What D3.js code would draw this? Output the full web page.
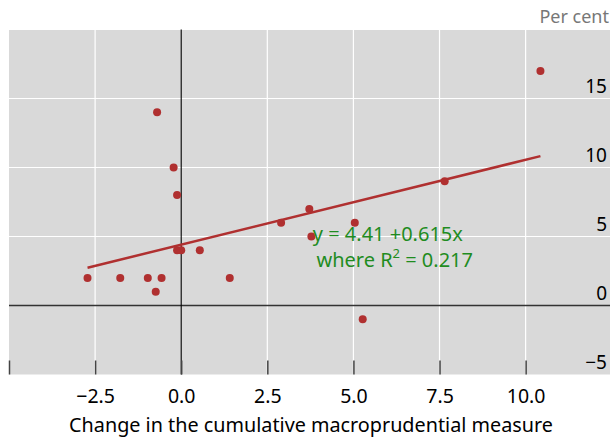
<!DOCTYPE html>
<html>
<head>
<meta charset="utf-8">
<script src="https://cdn.jsdelivr.net/npm/d3@7"></script>
<style>
  body { margin: 0; background: #fff; }
  svg { display: block; font-family: "Noto Sans", "Open Sans", sans-serif; }
</style>
</head>
<body>
<div id="chart"></div>
<script>
// data
const xValues = [10.43, -0.70, -0.22, -0.12, -2.72, -1.77, -0.97, -0.57, -0.74, -0.12, 0.0, 0.54, 1.41, 2.90, 3.72, 5.04, 3.78, 5.27, 7.65];
const yValues = [17.0, 14.0, 10.0, 8.0, 2.0, 2.0, 2.0, 2.0, 1.0, 4.0, 4.0, 4.0, 2.0, 6.0, 7.0, 6.0, 5.0, -1.0, 9.0];
const xTicks = [-5, -2.5, 0, 2.5, 5, 7.5, 10];
const xTickLabels = ["", "\u22122.5", "0.0", "2.5", "5.0", "7.5", "10.0"];
const yTicks = [-5, 0, 5, 10, 15];
const yTickLabels = ["\u22125", "0", "5", "10", "15"];
const fitIntercept = 4.41, fitSlope = 0.615;
const fitLabel = ["y = 4.41 +0.615x", "where R", "2", " = 0.217"];

const width = 610, height = 438;
const plotL = 9, plotR = 610, plotT = 29.5, plotB = 374.5;

const svg = d3.select("#chart").append("svg")
  .attr("width", width).attr("height", height);

const x = d3.scaleLinear().domain([-5, 12.45]).range([plotL, plotR]);
const y = d3.scaleLinear().domain([-5, 20]).range([plotB, plotT]);

svg.append("rect")
  .attr("x", plotL).attr("y", plotT)
  .attr("width", plotR - plotL).attr("height", plotB - plotT)
  .attr("fill", "#d9d9d9");

// grid
const gridX = d3.range(-2.5, 12.5, 2.5).filter(v => v !== 0);
svg.append("g").selectAll("line").data(gridX).join("line")
  .attr("x1", d => x(d)).attr("x2", d => x(d))
  .attr("y1", plotT).attr("y2", plotB)
  .attr("stroke", "#fff").attr("stroke-width", 1.2);

const gridY = [5, 10, 15, 20];
svg.append("g").selectAll("line").data(gridY).join("line")
  .attr("x1", plotL).attr("x2", plotR)
  .attr("y1", d => y(d)).attr("y2", d => y(d))
  .attr("stroke", "#fff").attr("stroke-width", 1.2);

// zero lines
svg.append("line")
  .attr("x1", plotL).attr("x2", plotR)
  .attr("y1", y(0)).attr("y2", y(0))
  .attr("stroke", "#333").attr("stroke-width", 1.4);
svg.append("line")
  .attr("x1", x(0)).attr("x2", x(0))
  .attr("y1", plotT).attr("y2", plotB)
  .attr("stroke", "#000").attr("stroke-width", 1.1);

// x axis: inward ticks, labels below
const xAxis = svg.append("g")
  .attr("transform", `translate(0,${plotB})`)
  .call(d3.axisBottom(x).tickValues(xTicks)
    .tickSizeInner(-14).tickSizeOuter(0).tickPadding(15)
    .tickFormat((d, i) => xTickLabels[i]));
xAxis.select(".domain").remove();
xAxis.selectAll(".tick line").attr("stroke", "#444").attr("stroke-width", 1.5);
xAxis.selectAll(".tick text")
  .attr("fill", "#000").attr("font-size", 19.5)
  .attr("font-family", "\"Noto Sans\", sans-serif");

// y labels on the right, sitting above their grid lines
svg.append("g").selectAll("text").data(yTicks).join("text")
  .attr("x", 607).attr("y", d => y(d) - 5.5)
  .attr("text-anchor", "end")
  .attr("font-size", 19)
  .text((d, i) => yTickLabels[i]);

svg.append("text")
  .attr("x", 609).attr("y", 23)
  .attr("text-anchor", "end")
  .attr("font-size", 18).attr("fill", "#777")
  .text("Per cent");

svg.append("text")
  .attr("x", 311).attr("y", 432)
  .attr("text-anchor", "middle")
  .attr("font-size", 19.8)
  .text("Change in the cumulative macroprudential measure");

// fitted line
const xMin = d3.min(xValues), xMax = d3.max(xValues);
svg.append("line")
  .attr("x1", x(xMin)).attr("y1", y(fitIntercept + fitSlope * xMin))
  .attr("x2", x(xMax)).attr("y2", y(fitIntercept + fitSlope * xMax))
  .attr("stroke", "#b03030").attr("stroke-width", 2.5);

// points
const pts = xValues.map((v, i) => ({ x: v, y: yValues[i] }));
svg.append("g").selectAll("circle").data(pts).join("circle")
  .attr("cx", d => x(d.x))
  .attr("cy", d => y(d.y))
  .attr("r", 4)
  .attr("fill", "#b03030");

// equation annotation
const ann = svg.append("g").attr("fill", "#1f8c1f").attr("font-size", 20);
ann.append("text")
  .attr("x", x(6.0)).attr("y", y(4.7))
  .attr("text-anchor", "middle")
  .text(fitLabel[0]);
const t2 = ann.append("text")
  .attr("x", x(6.2)).attr("y", y(2.8))
  .attr("text-anchor", "middle");
t2.append("tspan").text(fitLabel[1]);
t2.append("tspan").attr("dy", -9).attr("font-size", 13).text(fitLabel[2]);
t2.append("tspan").attr("dy", 9).text(fitLabel[3]);
</script>
</body>
</html>
